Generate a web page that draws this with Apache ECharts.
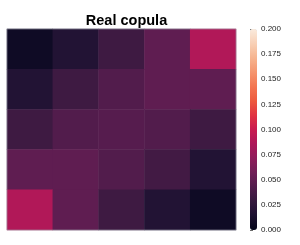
<!DOCTYPE html>
<html>
<head>
<meta charset="utf-8">
<script src="https://cdn.jsdelivr.net/npm/echarts@6/dist/echarts.min.js"></script>
<style>html,body{margin:0;padding:0;background:#fff}#c{width:300px;height:245px}</style>
</head>
<body>
<div id="c"></div>
<script>
var title = 'Real copula';
var xCats = ['0', '1', '2', '3', '4'];
var yCats = ['0', '1', '2', '3', '4'];
var row0 = [0.007, 0.018, 0.033, 0.049, 0.088];
var row1 = [0.018, 0.033, 0.043, 0.049, 0.049];
var row2 = [0.033, 0.043, 0.045, 0.043, 0.033];
var row3 = [0.049, 0.049, 0.043, 0.035, 0.018];
var row4 = [0.088, 0.049, 0.033, 0.018, 0.007];
var rows = [row0, row1, row2, row3, row4];

var rocket = ['#03051a', '#1c1130', '#35193e', '#521c4c', '#701f57', '#8e1d5b', '#ad1759', '#c91c50', '#e13342', '#ed5a3e', '#f37651', '#f5966f', '#f6b48f', '#f8d0b6', '#faebdd'];

var data = [];
rows.forEach(function (r, i) {
  r.forEach(function (v, j) { data.push([j, i, v]); });
});

var chart = echarts.init(document.getElementById('c'), null, {renderer: 'canvas'});
chart.setOption({
  animation: false,
  backgroundColor: '#ffffff',
  title: {
    text: title, left: 121.5, top: 8, textAlign: 'center',
    textStyle: {fontFamily: '"Liberation Sans", sans-serif', fontWeight: 'bold', fontSize: 14.5, color: '#000'}
  },
  grid: [
    {left: 7, top: 29, width: 229, height: 201, show: true, borderColor: '#9a9aa8', borderWidth: 0.6, backgroundColor: 'transparent', z: 3},
    {left: 250, top: 29, width: 7, height: 201}
  ],
  xAxis: [
    {type: 'category', data: xCats, gridIndex: 0, show: false},
    {type: 'value', gridIndex: 1, show: false, min: 0, max: 1}
  ],
  yAxis: [
    {type: 'category', data: yCats, gridIndex: 0, show: false, inverse: true},
    {type: 'value', gridIndex: 1, position: 'right', min: 0, max: 0.2, interval: 0.025,
     axisLine: {show: false}, splitLine: {show: false},
     axisTick: {show: true, length: 3, lineStyle: {color: '#444', width: 0.8}},
     axisLabel: {fontSize: 8, color: '#222', margin: 4, fontFamily: '"Liberation Sans", sans-serif',
       formatter: function (v) { return v.toFixed(3); }}}
  ],
  visualMap: {
    type: 'continuous', min: 0, max: 0.2, calculable: false, seriesIndex: 0,
    left: 250, top: 29, itemWidth: 7, itemHeight: 201, padding: 0,
    text: null, showLabel: false,
    inRange: {color: rocket}
  },
  series: [
    {type: 'heatmap', xAxisIndex: 0, yAxisIndex: 0, data: data, itemStyle: {borderWidth: 0}, emphasis: {disabled: true}},
    {type: 'scatter', xAxisIndex: 1, yAxisIndex: 1, data: [], silent: true}
  ]
});
</script>
</body>
</html>
